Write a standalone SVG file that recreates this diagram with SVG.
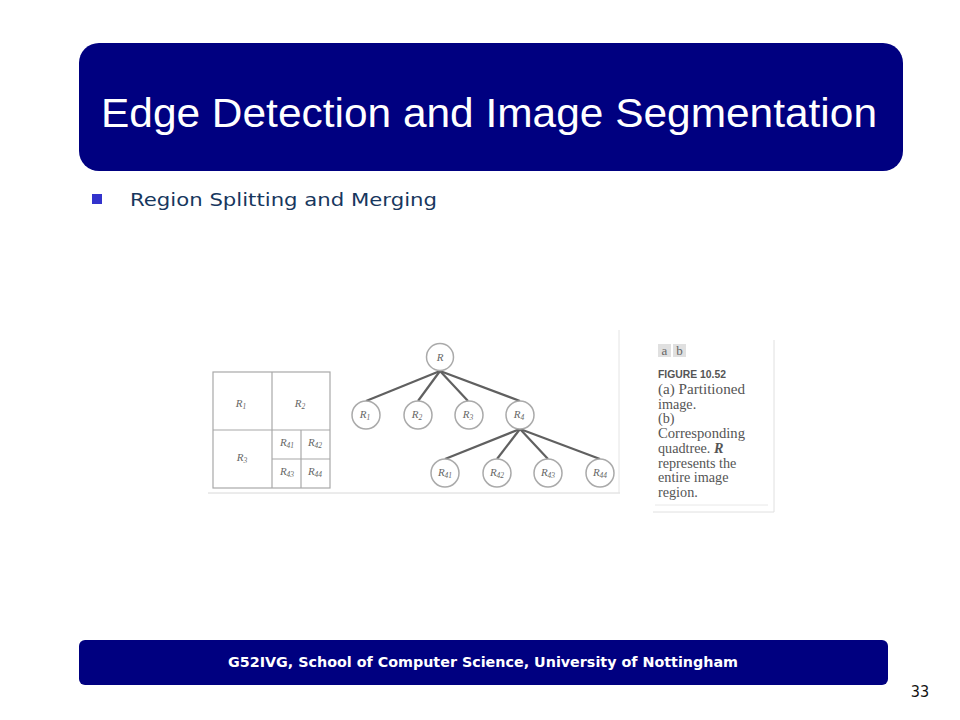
<svg xmlns="http://www.w3.org/2000/svg" width="960" height="720" viewBox="0 0 960 720">
<style>
.cell{fill:none;stroke:#a8a8a8;stroke-width:1.2}
.lab{font-family:"Liberation Serif",serif;font-style:italic;fill:#666;font-size:11px;text-anchor:middle}
.node circle{fill:#fff;stroke:#aaa;stroke-width:1.5}
.edge{stroke:#606060;stroke-width:2.2}
.cap{font-family:"Liberation Serif",serif;font-size:14.2px;fill:#555}
</style>
<rect width="960" height="720" fill="#fff"/>
<g id="title">
<rect x="79" y="43" width="824" height="128" rx="20" fill="#000080"/>
<text x="489" y="127" font-family="Liberation Sans, Arial, sans-serif" font-size="40" fill="#fff" text-anchor="middle" textLength="776" lengthAdjust="spacingAndGlyphs">Edge Detection and Image Segmentation</text>
</g>
<g id="bullet">
<rect x="92" y="194" width="10" height="10" fill="#3333cc"/>
<text x="130" y="206" font-family="DejaVu Sans, Verdana, sans-serif" font-size="18" fill="#17375e" textLength="307" lengthAdjust="spacingAndGlyphs">Region Splitting and Merging</text>
</g>
<g id="figure-a">
<rect class="cell" x="213" y="372" width="117" height="116"/>
<line class="cell" x1="272" y1="372" x2="272" y2="488"/>
<line class="cell" x1="213" y1="430" x2="330" y2="430"/>
<line class="cell" x1="301" y1="430" x2="301" y2="488"/>
<line class="cell" x1="272" y1="459" x2="330" y2="459"/>
<text class="lab" x="241" y="407">R<tspan font-size="7.5" dy="2">1</tspan></text>
<text class="lab" x="300" y="407">R<tspan font-size="7.5" dy="2">2</tspan></text>
<text class="lab" x="242" y="461">R<tspan font-size="7.5" dy="2">3</tspan></text>
<text class="lab" x="287" y="446">R<tspan font-size="7.5" dy="2">41</tspan></text>
<text class="lab" x="315" y="446">R<tspan font-size="7.5" dy="2">42</tspan></text>
<text class="lab" x="287" y="475">R<tspan font-size="7.5" dy="2">43</tspan></text>
<text class="lab" x="315" y="475">R<tspan font-size="7.5" dy="2">44</tspan></text>
</g>
<g id="frame">
<line x1="208" y1="493" x2="620" y2="493" stroke="#d8d8d8" stroke-width="1"/>
<line x1="619" y1="330" x2="619" y2="493" stroke="#e4e4e4" stroke-width="1"/>
</g>
<g id="connectors">
<line class="edge" x1="440" y1="371" x2="366" y2="401"/>
<line class="edge" x1="440" y1="371" x2="418" y2="401"/>
<line class="edge" x1="440" y1="371" x2="468" y2="401"/>
<line class="edge" x1="440" y1="371" x2="520" y2="401"/>
<line class="edge" x1="520" y1="429" x2="445" y2="459"/>
<line class="edge" x1="520" y1="429" x2="497" y2="459"/>
<line class="edge" x1="520" y1="429" x2="548" y2="459"/>
<line class="edge" x1="520" y1="429" x2="600" y2="459"/>
</g>
<g id="node-R" class="node"><circle cx="440" cy="357" r="13.5"/><text class="lab" x="440" y="361">R</text></g>
<g id="node-R1" class="node"><circle cx="366" cy="415" r="14"/><text class="lab" x="365" y="418">R<tspan font-size="7.5" dy="2">1</tspan></text></g>
<g id="node-R2" class="node"><circle cx="418" cy="415" r="14"/><text class="lab" x="417" y="418">R<tspan font-size="7.5" dy="2">2</tspan></text></g>
<g id="node-R3" class="node"><circle cx="469" cy="415" r="14"/><text class="lab" x="468" y="418">R<tspan font-size="7.5" dy="2">3</tspan></text></g>
<g id="node-R4" class="node"><circle cx="520" cy="415" r="14"/><text class="lab" x="519" y="418">R<tspan font-size="7.5" dy="2">4</tspan></text></g>
<g id="node-R41" class="node"><circle cx="445" cy="473" r="14"/><text class="lab" x="445" y="476">R<tspan font-size="7.5" dy="2">41</tspan></text></g>
<g id="node-R42" class="node"><circle cx="497" cy="473" r="14"/><text class="lab" x="497" y="476">R<tspan font-size="7.5" dy="2">42</tspan></text></g>
<g id="node-R43" class="node"><circle cx="548" cy="473" r="14"/><text class="lab" x="548" y="476">R<tspan font-size="7.5" dy="2">43</tspan></text></g>
<g id="node-R44" class="node"><circle cx="600" cy="473" r="14"/><text class="lab" x="600" y="476">R<tspan font-size="7.5" dy="2">44</tspan></text></g>
<g id="caption">
<line x1="774" y1="340" x2="774" y2="512" stroke="#e0e0e0" stroke-width="1"/>
<line x1="653" y1="512" x2="774" y2="512" stroke="#e0e0e0" stroke-width="1"/>
<line x1="655" y1="505" x2="768" y2="505" stroke="#e8e8e8" stroke-width="1"/>
<rect x="658" y="344" width="13" height="13" fill="#e0e0e0"/>
<rect x="673" y="344" width="13" height="13" fill="#e0e0e0"/>
<text x="664.5" y="355" font-family="Liberation Serif, serif" font-size="13" fill="#666" text-anchor="middle">a</text>
<text x="679.5" y="355" font-family="Liberation Serif, serif" font-size="13" fill="#666" text-anchor="middle">b</text>
<text x="658" y="378" font-family="Liberation Sans, Arial, sans-serif" font-size="11.5" font-weight="bold" fill="#555" textLength="68" lengthAdjust="spacingAndGlyphs">FIGURE 10.52</text>
<text class="cap" x="658" y="394" textLength="87" lengthAdjust="spacingAndGlyphs">(a) Partitioned</text>
<text class="cap" x="658" y="408.7">image.</text>
<text class="cap" x="658" y="423.4">(b)</text>
<text class="cap" x="658" y="438.1" textLength="87" lengthAdjust="spacingAndGlyphs">Corresponding</text>
<text class="cap" x="658" y="452.9">quadtree. <tspan font-style="italic" font-weight="bold">R</tspan></text>
<text class="cap" x="658" y="467.6">represents the</text>
<text class="cap" x="658" y="482.3">entire image</text>
<text class="cap" x="658" y="497">region.</text>
</g>
<g id="footer">
<rect x="79" y="640" width="809" height="45" rx="6" fill="#000080"/>
<text x="483" y="667" font-family="DejaVu Sans Condensed, DejaVu Sans, sans-serif" font-size="14" font-weight="bold" fill="#fff" text-anchor="middle" textLength="510" lengthAdjust="spacingAndGlyphs">G52IVG, School of Computer Science, University of Nottingham</text>
</g>
<text id="page" x="920" y="697" font-family="DejaVu Sans Condensed, DejaVu Sans, sans-serif" font-size="16" fill="#111" text-anchor="middle">33</text>
</svg>
